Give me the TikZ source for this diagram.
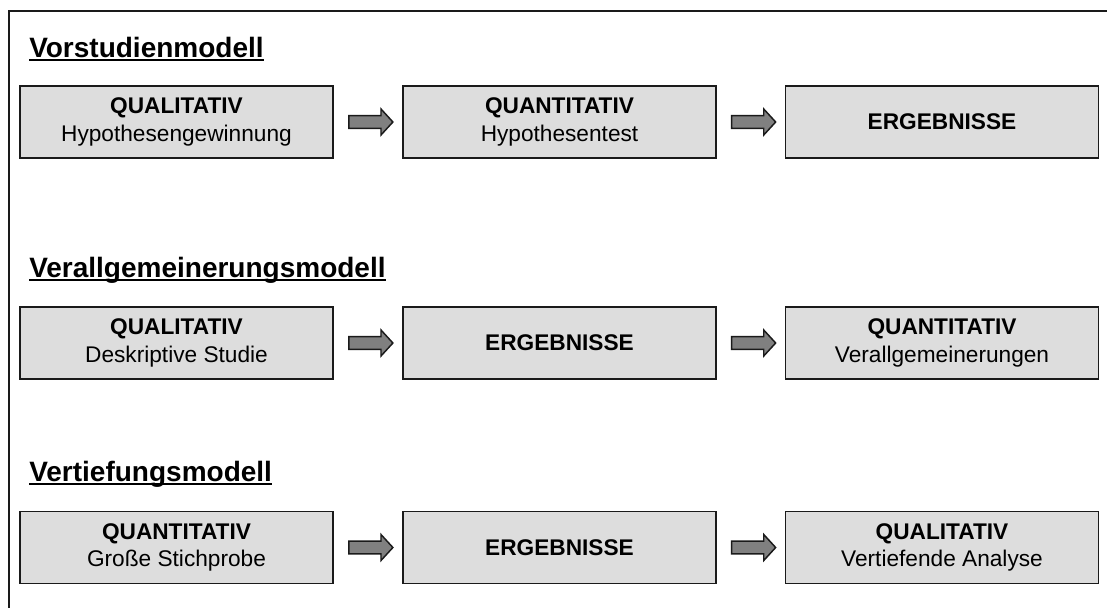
\documentclass[tikz,border=0pt]{standalone}
\usepackage{fontspec}
\setmainfont{Liberation Sans}
\usepackage{tikz}
\usepackage{tkz-euclide}
\usetikzlibrary{shapes.arrows}
\definecolor{boxfill}{HTML}{DDDDDD}
\definecolor{arrowfill}{HTML}{808080}
\definecolor{boxline}{HTML}{1A1A1A}

\begin{document}
\begin{tikzpicture}[x=0.75pt,y=-0.75pt,
		stage/.style={draw=boxline,fill=boxfill,line width=1.4pt,minimum width=234.75pt,minimum height=54pt,
			inner sep=0pt,align=center,font=\fontsize{17}{20.5}\selectfont},
		fatarrow/.style={single arrow,draw=boxline,fill=arrowfill,line width=1.1pt,minimum height=33pt,
			inner sep=4.2pt,single arrow head extend=5pt,single arrow tip angle=95},
		heading/.style={anchor=base west,inner sep=0pt,font=\fontsize{21}{24}\selectfont\bfseries},
		underl/.style={line width=1.5pt}]
			\useasboundingbox (0,0) rectangle (1107,608);
			\draw[line width=1.5pt,draw=boxline](1107,11) -- (9,11) -- (9,608);
			\tkzDefPoints{29/57/T1, 29/277/T2, 29/481/T3}
			\tkzDefPoints{176.5/122/A1, 559.5/122/A2, 942/122/A3,
				176.5/343/B1, 559.5/343/B2, 942/343/B3,
				176.5/547.5/C1, 559.5/547.5/C2, 942/547.5/C3}
			% Vorstudienmodell
			\node[heading] (t1) at (T1) {Vorstudienmodell};
			\draw[underl] ([yshift=-2.6pt]t1.base west) -- ([yshift=-2.6pt]t1.base east);
			\node[stage] (vs1) at (A1) {\textbf{QUALITATIV}\\Hypothesengewinnung};
			\node[stage] (vs2) at (A2) {\textbf{QUANTITATIV}\\Hypothesentest};
			\node[stage] (vs3) at (A3) {\textbf{ERGEBNISSE}};
			\path (vs1) -- node[fatarrow]{} (vs2);
			\path (vs2) -- node[fatarrow]{} (vs3);
			% Verallgemeinerungsmodell
			\node[heading] (t2) at (T2) {Verallgemeinerungsmodell};
			\draw[underl] ([yshift=-2.6pt]t2.base west) -- ([yshift=-2.6pt]t2.base east);
			\node[stage] (va1) at (B1) {\textbf{QUALITATIV}\\Deskriptive Studie};
			\node[stage] (va2) at (B2) {\textbf{ERGEBNISSE}};
			\node[stage] (va3) at (B3) {\textbf{QUANTITATIV}\\Verallgemeinerungen};
			\path (va1) -- node[fatarrow]{} (va2);
			\path (va2) -- node[fatarrow]{} (va3);
			% Vertiefungsmodell
			\node[heading] (t3) at (T3) {Vertiefungsmodell};
			\draw[underl] ([yshift=-2.6pt]t3.base west) -- ([yshift=-2.6pt]t3.base east);
			\node[stage] (vt1) at (C1) {\textbf{QUANTITATIV}\\Große Stichprobe};
			\node[stage] (vt2) at (C2) {\textbf{ERGEBNISSE}};
			\node[stage] (vt3) at (C3) {\textbf{QUALITATIV}\\Vertiefende Analyse};
			\path (vt1) -- node[fatarrow]{} (vt2);
			\path (vt2) -- node[fatarrow]{} (vt3);
		\end{tikzpicture}
\end{document}
